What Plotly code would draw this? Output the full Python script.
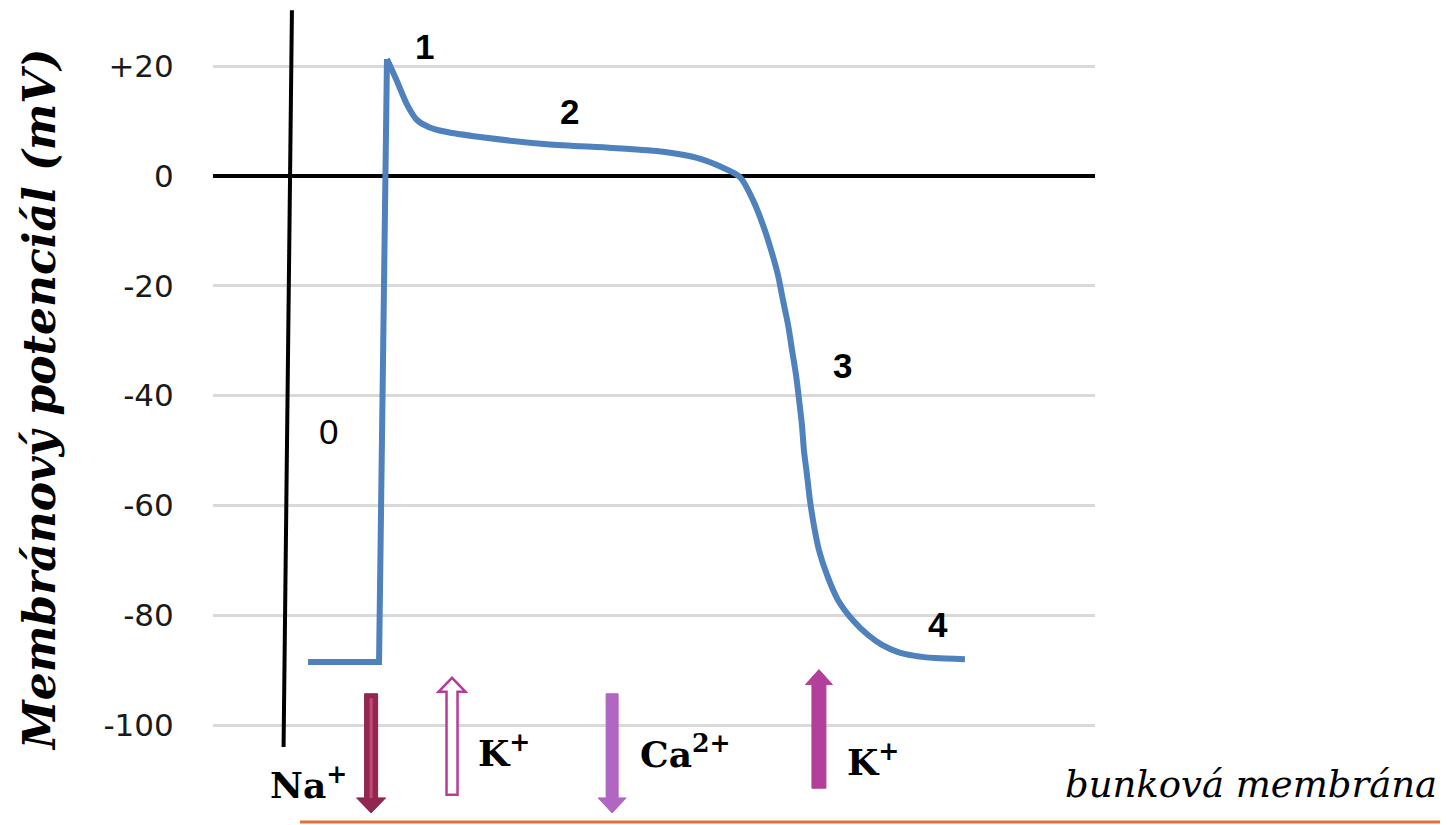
import plotly.graph_objects as go

# ---------------- data ----------------
# membrane potential (mV) over time (arbitrary ms units)
upstroke_t = [43.1, 75.3, 78.9]
upstroke_v = [-88.5, -88.5, 21.3]

repol_t = [78.9, 83.4, 88.0, 92.5, 98.0, 105.0, 121.1, 151.5, 181.4, 204.1, 219.5, 230.8,
           239.0, 244.9, 249.4, 253.1, 256.2, 258.5, 260.8, 262.6, 264.4, 265.8, 267.1,
           268.0, 269.4, 270.7, 272.5, 274.8, 278.5, 283.4, 290.2, 297.1, 303.4, 310.7,
           318.4, 327.4, 341.0]
repol_v = [21.3, 17.3, 13.0, 10.2, 8.9, 8.1, 7.1, 5.8, 5.1, 4.4, 3.3, 1.6,
           -0.2, -4.4, -8.9, -13.5, -18.0, -22.6, -27.1, -31.7, -36.2, -40.8, -45.4,
           -50.0, -54.5, -59.0, -63.6, -68.1, -72.7, -77.2, -80.9, -83.6, -85.4, -86.7,
           -87.4, -87.8, -88.0]

# vertical reference (stimulus) line
ref_t = [35.8, 32.0]
ref_v = [30.2, -104.0]

tick_vals = [20, 0, -20, -40, -60, -80, -100]
tick_text = ["+20", "0", "-20", "-40", "-60", "-80", "-100"]

phase_labels = ["0", "1", "2", "3", "4"]
phase_t = [52.6, 95.7, 161.5, 285.3, 328.8]
phase_v = [-46.6, 23.5, 11.7, -34.6, -81.6]

ion_labels = ["Na<sup>+</sup>", "K<sup>+</sup>", "Ca<sup>2+</sup>", "K<sup>+</sup>"]
ion_t = [71.7, 108.4, 181.0, 274.8]
ion_start_v = [-94.3, -112.7, -94.3, -111.5]
ion_tip_v = [-116.0, -91.4, -116.0, -89.9]
ion_label_t = [43.5, 132.0, 214.5, 299.3]
ion_label_v = [-110.4, -104.6, -104.9, -106.2]
ion_fill = ["#922852", "white", "#B066C2", "#B2409B"]
ion_line = ["#8A2249", "#B53C9C", "#B066C2", "#B2409B"]

# ---------------- layout geometry ----------------
OFF = 8  # page body margin
W, H = 1453 - OFF, 825 - OFF
L, R, T, B = 213 - OFF, W - (1095 - OFF), 0, 0
X_RANGE = [0, 400]
Y_RANGE = [-118.2, 30.6]
PW, PH = W - L - R, H - T - B
px_x = PW / (X_RANGE[1] - X_RANGE[0])      # px per time unit
px_y = PH / (Y_RANGE[1] - Y_RANGE[0])      # px per mV


def paper_x(xref_px):
    return (xref_px - OFF - L) / PW


def paper_y(yref_px):
    return (H - (yref_px - OFF)) / PH


fig = go.Figure()

blue = "#4F81BD"
fig.add_trace(go.Scatter(x=upstroke_t, y=upstroke_v, mode="lines",
                         line=dict(color=blue, width=6), hoverinfo="skip"))
fig.add_trace(go.Scatter(x=repol_t, y=repol_v, mode="lines",
                         line=dict(color=blue, width=6, shape="spline", smoothing=0.8),
                         hoverinfo="skip"))
fig.add_trace(go.Scatter(x=ref_t, y=ref_v, mode="lines",
                         line=dict(color="black", width=4), hoverinfo="skip"))

shapes = []
annotations = []


def arrow_path(t, v0, v1, shaft_px, head_px, head_len_px):
    sw = shaft_px / 2 / px_x
    hw = head_px / 2 / px_x
    d = 1 if v1 > v0 else -1
    hl = head_len_px / px_y
    vb = v1 - d * hl
    pts = [(t - sw, v0), (t - sw, vb), (t - hw, vb), (t, v1),
           (t + hw, vb), (t + sw, vb), (t + sw, v0)]
    return "M " + " L ".join(f"{a},{b}" for a, b in pts) + " Z"


shaft_w = [13, 11, 12, 14]
head_w = [29, 27, 28, 27]
head_l = [15, 14, 15, 15]
for i in range(len(ion_t)):
    shapes.append(dict(type="path", xref="x", yref="y",
                       path=arrow_path(ion_t[i], ion_start_v[i], ion_tip_v[i],
                                       shaft_w[i], head_w[i], head_l[i]),
                       fillcolor=ion_fill[i],
                       line=dict(color=ion_line[i], width=2.5 if i == 1 else 1)))
    annotations.append(dict(x=ion_label_t[i], y=ion_label_v[i], xref="x", yref="y",
                            xanchor="center", yanchor="middle",
                            text="<b>" + ion_labels[i] + "</b>", showarrow=False,
                            font=dict(family="DejaVu Serif", size=36, color="black")))
# inner highlight of Na+ arrow
shapes.append(dict(type="line", xref="x", yref="y",
                   x0=ion_t[0], x1=ion_t[0], y0=ion_start_v[0] - 0.8,
                   y1=ion_tip_v[0] + 15 / px_y,
                   line=dict(color="#C24A74", width=3)))

for i, lab in enumerate(phase_labels):
    annotations.append(dict(x=phase_t[i], y=phase_v[i], xref="x", yref="y",
                            xanchor="center", yanchor="middle",
                            text=lab if lab == "0" else "<b>" + lab + "</b>",
                            showarrow=False,
                            font=dict(family="Liberation Sans", size=35, color="black")))

# cell membrane line
shapes.append(dict(type="line", xref="paper", yref="paper",
                   x0=paper_x(300), x1=paper_x(1440),
                   y0=paper_y(822), y1=paper_y(822),
                   line=dict(color="#E2703A", width=3)))

annotations.append(dict(x=paper_x(1251), y=paper_y(784),
                        xref="paper", yref="paper", xanchor="center", yanchor="middle",
                        text="<i>bunková membrána</i>",
                        showarrow=False,
                        font=dict(family="DejaVu Serif", size=37, color="black")))

annotations.append(dict(x=paper_x(39), y=paper_y(400),
                        xref="paper", yref="paper", xanchor="center", yanchor="middle",
                        text="<b><i>Membránový potenciál (mV)</i></b>",
                        textangle=-90, showarrow=False,
                        font=dict(family="DejaVu Serif", size=44, color="black")))

fig.update_layout(
    width=W, height=H,
    margin=dict(l=L, r=R, t=T, b=B),
    paper_bgcolor="white", plot_bgcolor="white",
    showlegend=False,
    shapes=shapes, annotations=annotations,
    xaxis=dict(range=X_RANGE, visible=False, fixedrange=True),
    yaxis=dict(range=Y_RANGE, tickvals=tick_vals, ticktext=tick_text,
               showgrid=True, gridcolor="#D9D9D9", gridwidth=3,
               zeroline=True, zerolinecolor="black", zerolinewidth=4,
               showline=False, ticks="outside", ticklen=32,
               tickcolor="rgba(0,0,0,0)",
               tickfont=dict(family="DejaVu Sans", size=31, color="#1a1a1a"),
               fixedrange=True),
)

fig.write_html("out.html")
